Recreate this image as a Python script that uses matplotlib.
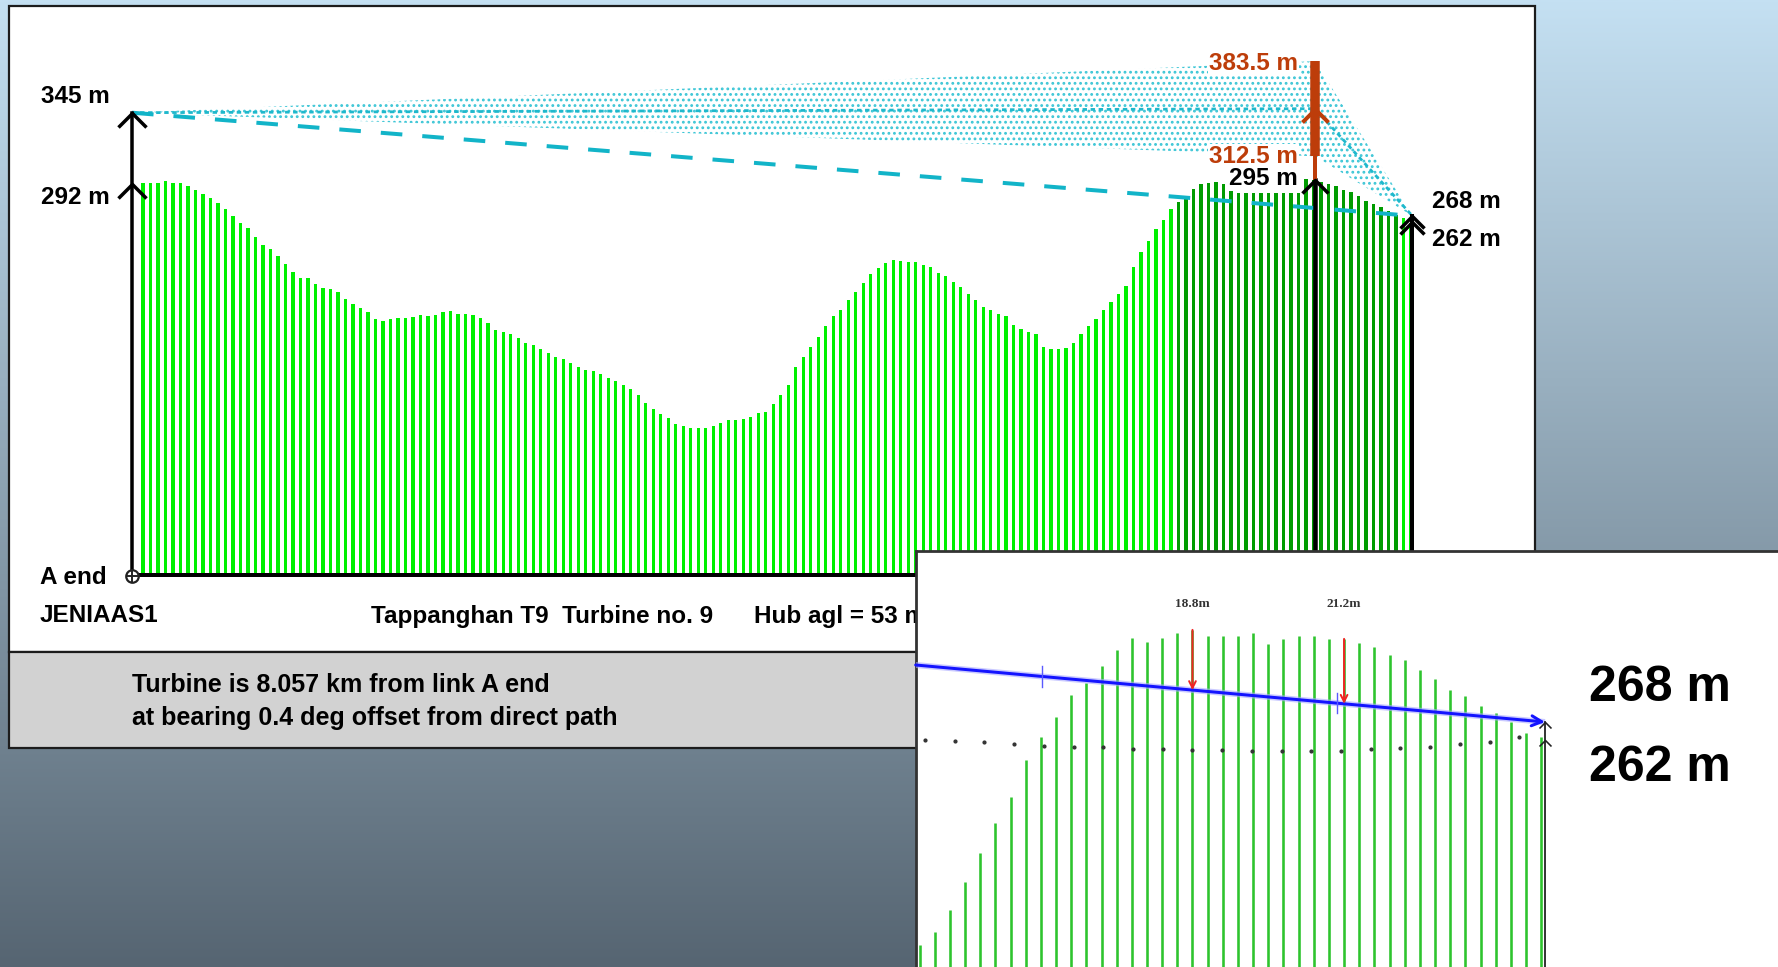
import numpy as np
import matplotlib
matplotlib.use("Agg")
import matplotlib.pyplot as plt
from matplotlib.path import Path
from matplotlib.patches import Rectangle, Polygon

plt.rcParams['font.family'] = ['Liberation Sans', 'DejaVu Sans']
plt.rcParams['font.weight'] = 'bold'
plt.rcParams['hatch.linewidth'] = 1.25

# ---------------- data ----------------
path_length_km = 8.72
turbine_km = 8.057
first_sample_km = 0.075
sample_step_km = 0.0511

terrain_m = [
    292.5, 292.5, 292.5, 294, 292.5, 292.5, 290, 287, 284, 281,
    277.5, 273, 268, 263, 259, 252, 246, 243, 238, 232,
    226, 222, 221.5, 217, 214, 213.5, 211, 206, 202, 199,
    196, 191, 189.5, 191, 191.5, 192, 192.5, 194, 193.5, 194,
    196, 197, 195, 195, 194, 191.5, 188, 183, 181.5, 180,
    177, 173, 172, 169, 166, 162.5, 161, 158.5, 155, 153,
    152, 150, 147, 144.5, 142, 138.5, 134, 128, 124, 120.5,
    117.5, 113, 111, 109.7, 109.7, 109.7, 111, 113.5, 116, 116,
    116.5, 118, 121, 122, 127.5, 134, 142, 155, 163, 170,
    177.6, 186, 193, 198, 205, 211.5, 218, 225, 229, 233,
    235, 234, 233.6, 233.6, 231.5, 229.5, 225.5, 223, 219, 215,
    210, 205, 200, 197.5, 195, 193, 186.5, 183.5, 181, 179.5,
    170, 168.7, 168.7, 169.5, 173, 180, 186, 191, 198, 204,
    210, 216, 230, 241, 249, 258, 265, 273, 278, 282.5,
    288, 291.5, 292.5, 293, 292, 290, 285, 285, 285, 285,
    285, 285, 285, 285, 285, 295.5, 295, 293, 291.5, 290,
    287, 285.5, 282.5, 279, 276.5, 274.5, 271.5, 269, 266.5, 263,
]
dark_first, dark_last = 138, 167          # bars drawn in dark green

a_ground_m, a_antenna_m = 292, 345
b_ground_m, b_antenna_m = 262, 268
turbine_ground_m = 295
rotor_bottom_m, rotor_top_m = 312.5, 383.5
hub_m = 348

site_a = "JENIAAS1"
title_1 = "Tappanghan T9  Turbine no. 9"
title_2 = "Hub agl = 53 m"
footer_1 = "Turbine is 8.057 km from link A end"
footer_2 = "at bearing 0.4 deg offset from direct path"

# inset (zoomed view near B end)
inset_terrain_m = [193.7, 198.1, 205.4, 214.8, 224.3, 234.3, 243.1, 255.4, 263.1, 269.8,
                   277.0, 280.9, 286.5, 292.0, 295.9, 294.5, 296.0, 297.8, 298.7, 296.7,
                   296.7, 296.7, 297.7, 294.0, 295.7, 296.7, 296.7, 295.7, 295.7, 294.3,
                   293.0, 290.4, 288.5, 285.4, 282.3, 278.5, 276.5, 273.4, 271.1, 268.1,
                   264.2, 263.1]
inset_b_index = 41.25
inset_path_start = (-0.26, 287.0)
inset_clear_idx = [18, 28]
inset_clear_labels = ["18.8m", "21.2m"]
inset_tick_idx = [8.1, 27.5]
inset_curve_m = [262, 261.7, 261.3, 260.7, 260, 259.7, 259.7, 259, 259, 258.7, 258.7,
                 258.3, 258.3, 258.3, 258.3, 259, 259.3, 259.7, 260.7, 261.3, 263]

# ---------------- layout ----------------
W, H = 1778, 967
A_PX, TURB_PX, BASE_PX, PX_PER_M = 132, 1315, 575, 1.34
KM_PER_PX = turbine_km / (TURB_PX - A_PX)
PT = 0.72  # points per pixel at dpi 100

RED = '#bd3d0a'
CYAN = '#12b4c8'
STIP = '#3cc6d6'
LIME = '#00f000'
DARK = '#009c00'

fig = plt.figure(figsize=(W / 100, H / 100), dpi=100)

def frect(x0, y0, x1, y1):
    return [x0 / W, 1 - y1 / H, (x1 - x0) / W, (y1 - y0) / H]

# background canvas
bg = fig.add_axes([0, 0, 1, 1])
bg.set_zorder(0)
top = np.array([196, 224, 242]) / 255
bot = np.array([86, 101, 114]) / 255
t = np.linspace(0, 1, 256)[:, None, None]
grad = top * (1 - t) + bot * t
bg.imshow(grad, extent=(0, W, H, 0), aspect='auto', interpolation='bilinear', zorder=0)
bg.set_xlim(0, W); bg.set_ylim(H, 0); bg.axis('off')
bg.add_patch(Rectangle((9, 6), 1526, 646, fc='white', ec='#1c1c1c', lw=1.6, zorder=1))
bg.add_patch(Rectangle((9, 652), 1526, 96, fc='#d2d2d2', ec='#1c1c1c', lw=1.6, zorder=1))

FS = 17.5
bg.text(40, 577, "A end", fontsize=FS, ha='left', va='center', zorder=3)
bg.text(40, 616, site_a, fontsize=FS, ha='left', va='center', zorder=3)
bg.text(371, 616, title_1, fontsize=FS, ha='left', va='center', zorder=3)
bg.text(754, 616, title_2, fontsize=FS, ha='left', va='center', zorder=3)
bg.text(132, 685, footer_1, fontsize=18, ha='left', va='center', zorder=3)
bg.text(132, 718, footer_2, fontsize=18, ha='left', va='center', zorder=3)

# main profile axes
ax = fig.add_axes(frect(9, 6, 1535, 652))
ax.set_zorder(2)
ax.set_xlim((9 - A_PX) * KM_PER_PX, (1535 - A_PX) * KM_PER_PX)
ax.set_ylim((BASE_PX - 652) / PX_PER_M, (BASE_PX - 6) / PX_PER_M)
ax.axis('off')

n = len(terrain_m)
dist = first_sample_km + sample_step_km * np.arange(n)
colors = [DARK if dark_first <= i <= dark_last else LIME for i in range(n)]
ax.bar(dist, terrain_m, width=0.0225, color=colors, linewidth=0, zorder=2)

L = path_length_km
# stippled zone A -> rotor -> B
ax.add_patch(Polygon([(0, a_antenna_m), (turbine_km, rotor_top_m), (L, b_antenna_m),
                      (turbine_km, rotor_bottom_m)], closed=True, fc='none',
                     ec=STIP, hatch='...', lw=0, zorder=3))
# hub path line
ax.plot([0, turbine_km, L], [a_antenna_m, hub_m, b_antenna_m], color='#1fb8cc',
        lw=2.0, ls=(0, (1.6, 1.3)), zorder=4)
# direct path (long dashes)
ax.plot([0, L], [a_antenna_m, b_antenna_m], color=CYAN, lw=4 * PT,
        ls=(0, (5.4, 5.0)), dash_capstyle='butt', zorder=4)

chev = Path([(-1, -1), (0, 0), (1, -1)], [Path.MOVETO, Path.LINETO, Path.LINETO])

def chevron(axis, x, y, color, size_px, lw):
    axis.plot([x], [y], marker=chev, ms=size_px * PT, mec=color, mfc='none',
              mew=lw, ls='none', zorder=6)

# baseline and end lines
ax.plot([0, L], [0, 0], color='k', lw=4 * PT, zorder=5, solid_capstyle='butt')
ax.plot([0, 0], [0, a_antenna_m], color='k', lw=3.5 * PT, zorder=5)
chevron(ax, 0, a_antenna_m, 'k', 28, 3.5 * PT)
chevron(ax, 0, a_ground_m, 'k', 28, 3.5 * PT)
ax.plot([L, L], [0, b_antenna_m], color='k', lw=4 * PT, zorder=5)
chevron(ax, L, b_antenna_m, 'k', 24, 3.5 * PT)
chevron(ax, L, b_ground_m + 1.5, 'k', 24, 3.5 * PT)
ax.plot([0], [-1], marker='o', ms=9, mfc='white', mec='#222', mew=1.6, zorder=7)
ax.plot([0], [-1], marker='+', ms=9, mec='#222', mew=1.4, zorder=7)

# turbine
ax.plot([turbine_km, turbine_km], [0, turbine_ground_m], color='k', lw=4.5 * PT, zorder=5)
chevron(ax, turbine_km, turbine_ground_m, 'k', 26, 3.5 * PT)
ax.plot([turbine_km, turbine_km], [turbine_ground_m, rotor_bottom_m], color=RED,
        lw=4 * PT, zorder=5, solid_capstyle='butt')
ax.plot([turbine_km, turbine_km], [rotor_bottom_m, rotor_top_m], color=RED,
        lw=9.5 * PT, zorder=5, solid_capstyle='butt')
chevron(ax, turbine_km, hub_m, RED, 26, 4 * PT)

def label(axis, text, xy, dx, dy, ha, color='k', fs=FS, box=True):
    kw = dict(bbox=dict(fc='white', ec='none', pad=0.5)) if box else {}
    axis.annotate(text, xy=xy, xytext=(dx, dy), textcoords='offset pixels',
                  ha=ha, va='center', color=color, fontsize=fs, zorder=8, **kw)

label(ax, f"{a_antenna_m} m", (0, a_antenna_m), -22, 16, 'right')
label(ax, f"{a_ground_m} m", (0, a_ground_m), -22, -14, 'right')
label(ax, f"{rotor_top_m} m", (turbine_km, rotor_top_m), -17, -2, 'right', RED)
label(ax, f"{rotor_bottom_m} m", (turbine_km, rotor_bottom_m), -17, 0, 'right', RED)
label(ax, f"{turbine_ground_m} m", (turbine_km, turbine_ground_m), -17, 1, 'right')
label(ax, f"{b_antenna_m} m", (L, b_antenna_m), 20, 14, 'left')
label(ax, f"{b_ground_m} m", (L, b_ground_m), 20, -16, 'left')

# ---------------- inset ----------------
axi = fig.add_axes(frect(916, 551, W, H))
axi.set_zorder(5)
axi.set_facecolor('white')
X0, DX = 919.6, 15.16
axi.set_xlim((916 - X0) / DX, (W - X0) / DX)
axi.set_ylim(262 - (H - 740) / 3, 262 + (740 - 551) / 3)
axi.set_xticks([]); axi.set_yticks([])
for s in ['right', 'bottom']:
    axi.spines[s].set_visible(False)
for s in ['top', 'left']:
    axi.spines[s].set_color('#333333'); axi.spines[s].set_linewidth(2)

idx = np.arange(len(inset_terrain_m))
axi.vlines(idx, 150, inset_terrain_m, color='#2ec42e', lw=2.6 * PT, zorder=2)

ps_x, ps_y = inset_path_start
def path_at(i):
    return ps_y + (b_antenna_m - ps_y) * (i - ps_x) / (inset_b_index - ps_x)

axi.plot([ps_x, inset_b_index], [ps_y, b_antenna_m], color='#a8a8ff', lw=6 * PT,
         alpha=0.6, zorder=3, solid_capstyle='butt')
axi.annotate('', xy=(inset_b_index, b_antenna_m), xytext=(ps_x, ps_y),
             arrowprops=dict(arrowstyle='->', color='#1414ff', lw=3 * PT,
                             mutation_scale=18, shrinkA=0, shrinkB=0), zorder=4)
for ti in inset_tick_idx:
    v = path_at(ti)
    axi.plot([ti, ti], [v - 3.4, v + 3.4], color='#5a5aff', lw=1.4 * PT, zorder=4)
for ci, lab in zip(inset_clear_idx, inset_clear_labels):
    top_v = inset_terrain_m[ci]
    axi.annotate('', xy=(ci, path_at(ci)), xytext=(ci, top_v),
                 arrowprops=dict(arrowstyle='->', color='#f02424', lw=2 * PT,
                                 mutation_scale=12, shrinkA=0, shrinkB=0), zorder=5)
    axi.text(ci, 307.3, lab, ha='center', va='center', fontsize=9.5,
             family=['Liberation Serif', 'DejaVu Serif'], color='#333333', zorder=6)

curve_x = 0.36 + 1.96 * np.arange(len(inset_curve_m))
axi.plot(curve_x, inset_curve_m, ls='none', marker='o', ms=2.0, color='#333333', zorder=4)

axi.plot([inset_b_index, inset_b_index], [150, b_antenna_m], color='#222222', lw=1.8 * PT, zorder=5)
chevron(axi, inset_b_index, b_antenna_m, '#222222', 12, 1.6 * PT)
chevron(axi, inset_b_index, b_ground_m, '#222222', 12, 1.6 * PT)
label(axi, f"{b_antenna_m} m", (inset_b_index, b_antenna_m), 44, 34, 'left', fs=36, box=False)
label(axi, f"{b_ground_m} m", (inset_b_index, b_ground_m), 44, -28, 'left', fs=36, box=False)

fig.savefig("out.png", dpi=100)
